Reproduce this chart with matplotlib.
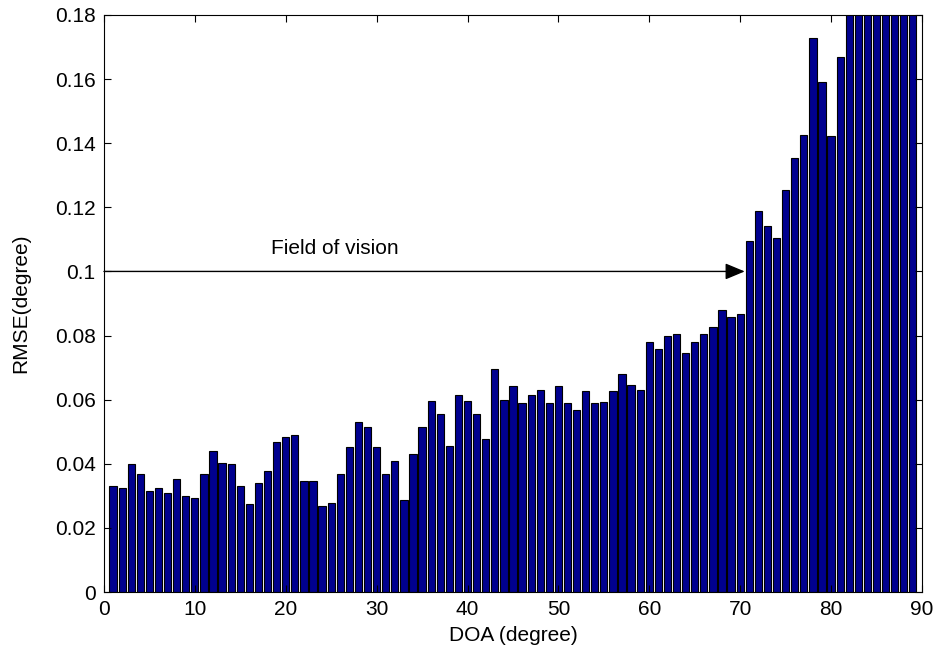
import numpy as np
import matplotlib
matplotlib.use("Agg")
import matplotlib.pyplot as plt

plt.rcParams['font.family'] = ['Liberation Sans', 'DejaVu Sans']

# Direction of arrival (degrees) and the corresponding RMSE
doa = list(range(1, 90))
rmse = [
    0.0331, 0.0325, 0.0400, 0.0367, 0.0315, 0.0325, 0.0309, 0.0352, 0.0298, 0.0294,
    0.0367, 0.0441, 0.0403, 0.0398, 0.0330, 0.0273, 0.0341, 0.0378, 0.0468, 0.0484,
    0.0489, 0.0346, 0.0346, 0.0268, 0.0279, 0.0368, 0.0452, 0.0531, 0.0515, 0.0452,
    0.0368, 0.0410, 0.0288, 0.0431, 0.0515, 0.0595, 0.0556, 0.0457, 0.0614, 0.0595,
    0.0556, 0.0478, 0.0695, 0.0600, 0.0643, 0.0590, 0.0614, 0.0630, 0.0590, 0.0643,
    0.0590, 0.0568, 0.0627, 0.0590, 0.0594, 0.0627, 0.0679, 0.0647, 0.0630, 0.0779,
    0.0758, 0.0800, 0.0804, 0.0746, 0.0779, 0.0804, 0.0827, 0.0879, 0.0857, 0.0867,
    0.1095, 0.1190, 0.1142, 0.1104, 0.1254, 0.1353, 0.1425, 0.1727, 0.1591, 0.1422,
    0.1669, 0.1900, 0.2000, 0.2150, 0.2300, 0.2500, 0.2700, 0.3000, 0.3400,
]

xticks = list(range(0, 91, 10))
yticks = [0, 0.02, 0.04, 0.06, 0.08, 0.1, 0.12, 0.14, 0.16, 0.18]
ytick_labels = ['0', '0.02', '0.04', '0.06', '0.08', '0.1', '0.12', '0.14', '0.16', '0.18']

annotation_text = 'Field of vision'
arrow_y = 0.1
arrow_x_start = 0
arrow_x_end = 70.5

fig = plt.figure(figsize=(9.4, 6.54), dpi=100)
ax = fig.add_axes([0.1106, 0.0948, 0.8702, 0.8823])

ax.bar(doa, rmse, width=0.8, color='#00008F', edgecolor='black', linewidth=0.8)

ax.set_xlim(0, 90)
ax.set_ylim(0, 0.18)
ax.set_xticks(xticks)
ax.set_yticks(yticks)
ax.set_yticklabels(ytick_labels)

fs = 15
ax.tick_params(direction='in', length=5, width=0.8, top=True, right=True,
               labelsize=fs, pad=6)
for s in ax.spines.values():
    s.set_linewidth(0.8)

ax.set_xlabel('DOA (degree)', fontsize=fs, labelpad=5)
ax.set_ylabel('RMSE(degree)', fontsize=fs, labelpad=18)

ax.annotate('', xy=(arrow_x_end, arrow_y), xytext=(arrow_x_start, arrow_y),
            arrowprops=dict(arrowstyle='-|>,head_length=0.6,head_width=0.25',
                            color='black', lw=1.0, mutation_scale=20,
                            shrinkA=0, shrinkB=0))
ax.text(25.4, 0.1073, annotation_text, fontsize=fs, ha='center', va='center')

fig.savefig('out.png', dpi=100)
